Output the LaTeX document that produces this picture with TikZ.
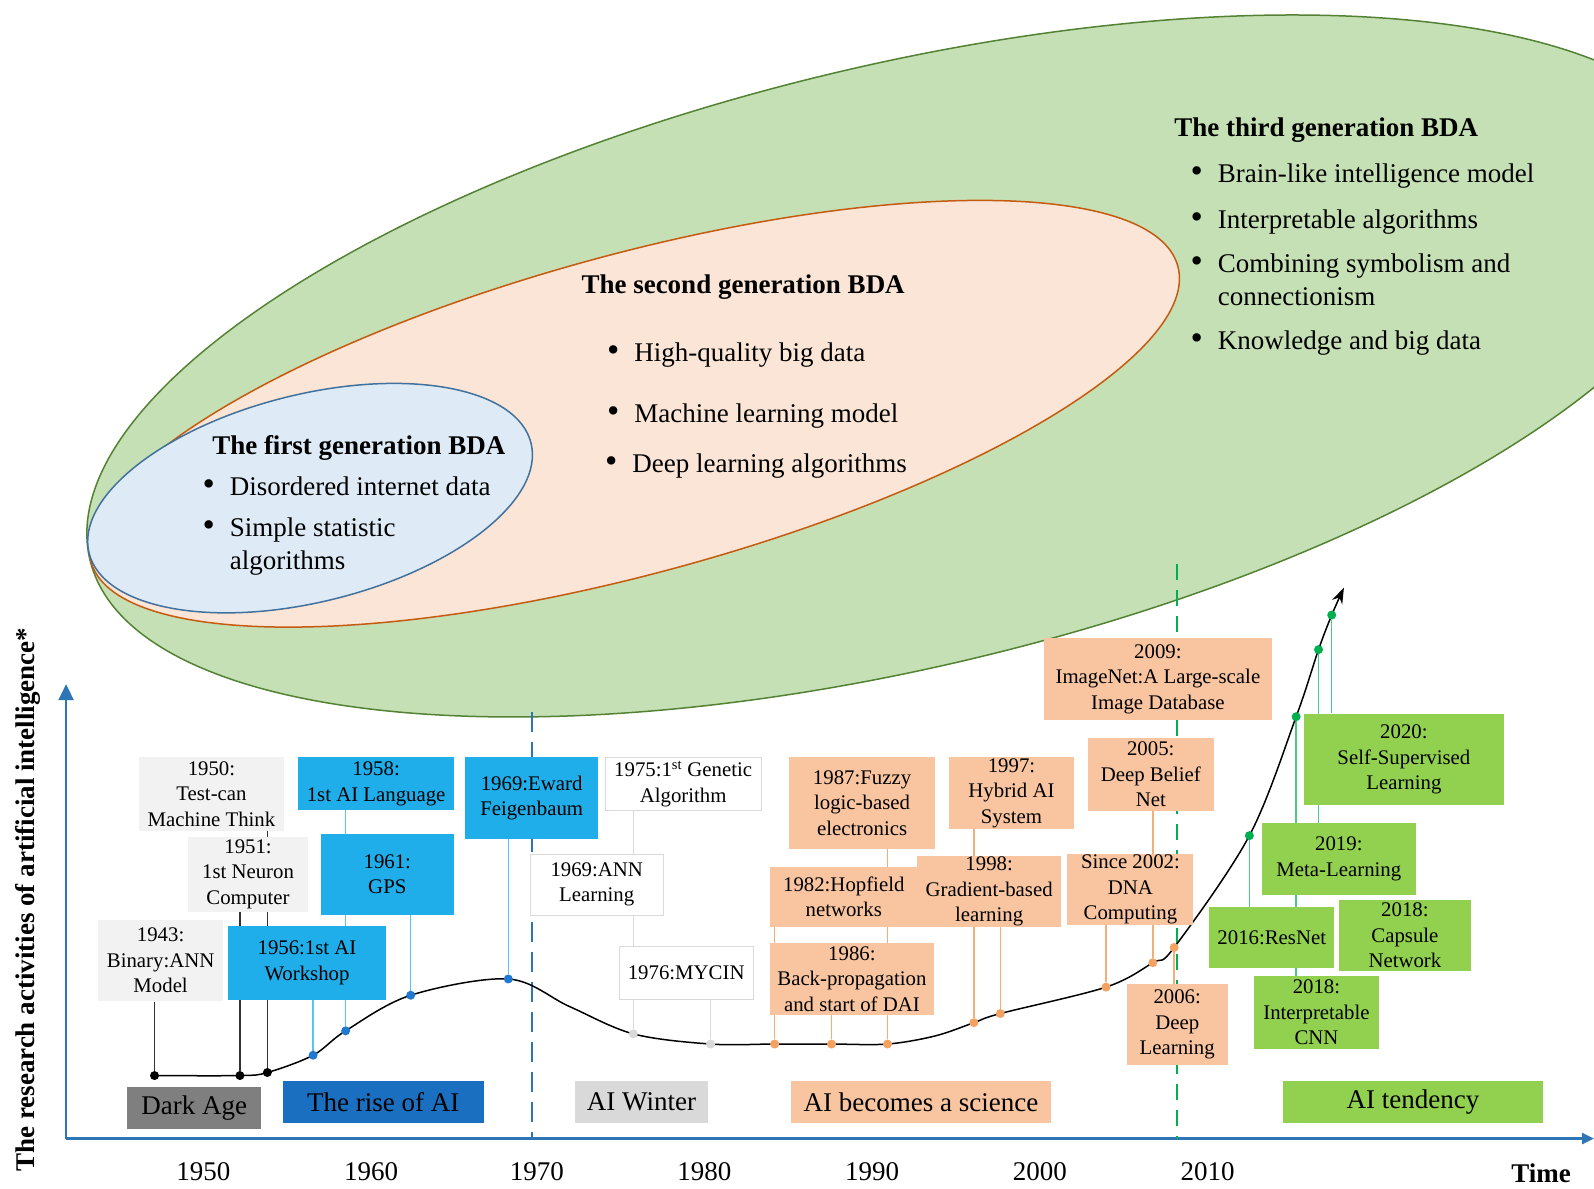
\documentclass[tikz,border=0pt]{standalone}
\usepackage{fontspec}
\setmainfont{Liberation Serif}
\usetikzlibrary{arrows.meta}
\pgfdeclarelayer{back}
\pgfdeclarelayer{links}
\pgfsetlayers{back,links,main}

\definecolor{genthree}{HTML}{C5E0B4}
\definecolor{genthreeline}{HTML}{548235}
\definecolor{gentwo}{HTML}{FBE5D6}
\definecolor{gentwoline}{HTML}{C55A11}
\definecolor{genone}{HTML}{DEEBF7}
\definecolor{genoneline}{HTML}{41719C}
\definecolor{axisblue}{HTML}{2E75B6}
\definecolor{paleGray}{HTML}{F2F2F2}
\definecolor{skyBlue}{HTML}{1FAEE9}
\definecolor{skyLink}{HTML}{5BC3F0}
\definecolor{dotBlue}{HTML}{1F78D1}
\definecolor{peach}{HTML}{F8C5A0}
\definecolor{peachLink}{HTML}{F4AE78}
\definecolor{dotOrange}{HTML}{F4A261}
\definecolor{leaf}{HTML}{92D050}
\definecolor{leafLink}{HTML}{4CC984}
\definecolor{dotGreen}{HTML}{00B050}
\definecolor{winter}{HTML}{D9D9D9}
\definecolor{riseBlue}{HTML}{1A6FC0}
\definecolor{darkAge}{HTML}{7F7F7F}

\newcommand{\bul}[1]{\begin{tabular}[t]{@{}l@{\hspace{15pt}}l@{}}\scalebox{1.3}{\textbullet} & #1\end{tabular}}

\tikzset{
    wh/.style 2 args={minimum width=1.0166*#1pt, minimum height=1.0166*#2pt},
    link/.style={line width=1.4pt},
    item/.style={anchor=base west, inner sep=0pt, font=\fontsize{27}{33}\selectfont},
    title/.style={inner sep=0pt, font=\fontsize{27}{32}\selectfont\bfseries}
}

\begin{document}
\begin{tikzpicture}[x=1.0166pt, y=-1.0166pt]
    \useasboundingbox (0,0) rectangle (1568,1169.6);

    \begin{pgfonlayer}{back}
        \draw[fill=genthree, draw=genthreeline, line width=1.5pt, rotate around={13.4:(888,360)}] (888,360) ellipse [x radius=822, y radius=296];
        \draw[fill=gentwo, draw=gentwoline, line width=1.5pt, rotate around={15.2:(624,407)}] (624,407) ellipse [x radius=554, y radius=157];
        \draw[fill=genone, draw=genoneline, line width=1.5pt, rotate around={14:(305,490)}] (305,490) ellipse [x radius=224, y radius=102];

        \coordinate (origin) at (65,1120);
        \coordinate (ytop) at (65,673);
        \coordinate (xend) at (1568,1120);
        \draw[axisblue, line width=2.5pt, -{Triangle[length=16pt,width=15pt]}] (origin) -- (ytop);
        \draw[axisblue, line width=2.5pt, -{Triangle[length=12pt,width=11pt]}] (origin) -- (xend);

        \coordinate (cut70) at (523,700);
        \coordinate (cut08) at (1158,555);
        \draw[axisblue, line width=2.2pt, dash pattern=on 20pt off 10pt] (cut70) -- (cut70 |- origin);
        \draw[dotGreen, line width=2pt, dash pattern=on 16pt off 10pt] (cut08) -- (cut08 |- origin);
    \end{pgfonlayer}

    \node[title] (gen1) at (353,441) {The first generation BDA};
    \node[item] (gen1a) at (199,487) {\bul{Disordered internet data}};
    \node[item] (gen1b) at (199,528) {\bul{Simple statistic\\ & algorithms}};

    \node[title] (gen2) at (731,282) {The second generation BDA};
    \node[item] (gen2a) at (597,356) {\bul{High-quality big data}};
    \node[item] (gen2b) at (597,416) {\bul{Machine learning model}};
    \node[item] (gen2c) at (595,465) {\bul{Deep learning algorithms}};

    \node[title, anchor=west] (gen3) at (1155,128) {The third generation BDA};
    \node[item] (gen3a) at (1171,180) {\bul{Brain-like intelligence model}};
    \node[item] (gen3b) at (1171,225) {\bul{Interpretable algorithms}};
    \node[item] (gen3c) at (1171,268) {\bul{Combining symbolism and\\ & connectionism}};
    \node[item] (gen3d) at (1171,344) {\bul{Knowledge and big data}};

    \begin{scope}[every node/.style={circle, inner sep=0pt, minimum size=9pt}]
        \node[fill=black] (p1943) at (152,1058) {};
        \node[fill=black] (p1951) at (236,1058) {};
        \node[fill=black] (p1950) at (263,1055) {};
        \node[fill=dotBlue] (p1956) at (308,1038) {};
        \node[fill=dotBlue] (p1958) at (340,1014) {};
        \node[fill=dotBlue] (p1961) at (404,979) {};
        \node[fill=dotBlue] (p1969) at (500,963) {};
        \node[fill=winter] (p1975) at (623,1017) {};
        \node[fill=winter] (p1976) at (699,1027) {};
        \node[fill=dotOrange] (p1982) at (762,1027) {};
        \node[fill=dotOrange] (p1986) at (818,1027) {};
        \node[fill=dotOrange] (p1987) at (873,1027) {};
        \node[fill=dotOrange] (p1997) at (958,1006) {};
        \node[fill=dotOrange] (p1998) at (984,997) {};
        \node[fill=dotOrange] (p2002) at (1088,971) {};
        \node[fill=dotOrange] (p2005) at (1134,947) {};
        \node[fill=dotOrange] (p2006) at (1155,932) {};
        \node[fill=dotGreen] (p2016) at (1229,822) {};
        \node[fill=dotGreen] (p2018) at (1275,705) {};
        \node[fill=dotGreen] (p2019) at (1297,639) {};
        \node[fill=dotGreen] (p2020) at (1310,605) {};
    \end{scope}

    \begin{scope}[every node/.style={align=center, inner sep=0pt, font=\fontsize{20.8}{25.5}\selectfont}]
        \node[fill=paleGray, wh={143}{72}] (b1950) at (208,781) {1950:\\Test-can\\Machine Think};
        \node[fill=paleGray, wh={118}{74}] (b1951) at (244,860) {1951:\\1st Neuron\\Computer};
        \node[fill=paleGray, wh={123}{80}] (b1943) at (158,945) {1943:\\Binary:ANN\\Model};

        \node[fill=skyBlue, wh={154}{52}] (b1958) at (370,771) {1958:\\1st AI Language};
        \node[fill=skyBlue, wh={131}{80}] (b1961) at (381,860) {1961:\\GPS};
        \node[fill=skyBlue, wh={155}{73}] (b1956) at (302,947) {1956:1st AI\\Workshop};
        \node[fill=skyBlue, wh={131}{80}] (b1969) at (523,785) {1969:Eward\\Feigenbaum};

        \node[fill=white, draw=winter, thick, wh={153}{52}] (b1975) at (672,771) {1975:1\textsuperscript{st} Genetic\\Algorithm};
        \node[fill=white, draw=winter, thick, wh={131}{60}] (b1969a) at (587,870) {1969:ANN\\Learning};
        \node[fill=white, draw=winter, thick, wh={132}{53}] (b1976) at (675,957) {1976:MYCIN};

        \node[fill=peach, wh={143}{90}] (b1987) at (848,790) {1987:Fuzzy\\logic-based\\electronics};
        \node[fill=peach, wh={145}{59}] (b1982) at (830,882) {1982:Hopfield\\networks};
        \node[fill=peach, wh={142}{70}] (b1998) at (973,877) {1998:\\Gradient-based\\learning};
        \node[fill=peach, wh={162}{70}] (b1986) at (838,963) {1986:\\Back-propagation\\and start of DAI};
        \node[fill=peach, wh={123}{70}] (b1997) at (995,780) {1997:\\Hybrid AI\\System};
        \node[fill=peach, wh={225}{80}] (b2009) at (1139,668) {2009:\\ImageNet:A Large-scale\\Image Database};
        \node[fill=peach, wh={124}{72}] (b2005) at (1132,762) {2005:\\Deep Belief\\Net};
        \node[fill=peach, wh={124}{70}] (b2002) at (1112,875) {Since 2002:\\DNA\\Computing};
        \node[fill=peach, wh={99}{80}] (b2006) at (1158,1008) {2006:\\Deep\\Learning};

        \node[fill=leaf, wh={197}{90}] (b2020) at (1381,747) {2020:\\Self-Supervised\\Learning};
        \node[fill=leaf, wh={152}{70}] (b2019) at (1317,845) {2019:\\Meta-Learning};
        \node[fill=leaf, wh={123}{60}] (b2016) at (1251,922) {2016:ResNet};
        \node[fill=leaf, wh={130}{70}] (b2018c) at (1382,920) {2018:\\Capsule\\Network};
        \node[fill=leaf, wh={123}{71}] (b2018i) at (1295,996) {2018:\\Interpretable\\CNN};
    \end{scope}

    \begin{scope}[every node/.style={inner sep=0pt, font=\fontsize{27}{31}\selectfont}]
        \node[fill=darkAge, wh={132}{41}] (dark) at (191,1090) {Dark Age};
        \node[fill=riseBlue, wh={198}{42}] (rise) at (377,1084) {The rise of AI};
        \node[fill=winter, wh={131}{42}] (cold) at (631,1084) {AI Winter};
        \node[fill=peach, wh={256}{42}] (science) at (906,1084) {AI becomes a science};
        \node[fill=leaf, wh={255}{42}] (trend) at (1390,1084) {AI tendency};

        \node (y1950) at (200,1153) {1950};
        \node (y1960) at (365,1153) {1960};
        \node (y1970) at (528,1153) {1970};
        \node (y1980) at (693,1153) {1980};
        \node (y1990) at (858,1153) {1990};
        \node (y2000) at (1023,1153) {2000};
        \node (y2010) at (1188,1153) {2010};
        \node[font=\fontsize{27}{31}\selectfont\bfseries] (time) at (1516,1154) {Time};
        \node[rotate=90, font=\fontsize{27}{31}\selectfont\bfseries] (ylabel) at (28,885) {The research activities of artificial intelligence*};
    \end{scope}

    \begin{pgfonlayer}{links}
        \draw[link, black!80] (b1943.south -| p1943) -- (p1943);
        \draw[link, black!80] (b1951.south -| p1951) -- (p1951);
        \draw[link, black!80] (b1950.south -| p1950) -- (p1950);
        \draw[link, skyLink] (b1956.south -| p1956) -- (p1956);
        \draw[link, skyLink] (b1958.south -| p1958) -- (p1958);
        \draw[link, skyLink] (b1961.south -| p1961) -- (p1961);
        \draw[link, skyLink] (b1969.south -| p1969) -- (p1969);
        \draw[link, winter] (b1975.south -| p1975) -- (p1975);
        \draw[link, winter] (b1976.south -| p1976) -- (p1976);
        \draw[link, peachLink] (b1982.south -| p1982) -- (p1982);
        \draw[link, peachLink] (b1986.south -| p1986) -- (p1986);
        \draw[link, peachLink] (b1987.south -| p1987) -- (p1987);
        \draw[link, peachLink] (b1997.south -| p1997) -- (p1997);
        \draw[link, peachLink] (b1998.south -| p1998) -- (p1998);
        \draw[link, peachLink] (b2002.south -| p2002) -- (p2002);
        \draw[link, peachLink] (b2005.south -| p2005) -- (p2005);
        \draw[link, peachLink] (b2006.north -| p2006) -- (p2006);
        \draw[link, leafLink] (b2016.north -| p2016) -- (p2016);
        \draw[link, leafLink] (b2018i.north -| p2018) -- (p2018);
        \draw[link, leafLink] (b2019.north -| p2019) -- (p2019);
        \draw[link, leafLink] (b2020.north -| p2020) -- (p2020);

        \coordinate (tip) at (1322,578);
        \draw[line width=1.5pt, -{Stealth[length=16pt,width=11pt]}] plot[smooth, tension=0.55] coordinates {(p1943) (p1951) (p1950) (p1956) (p1958) (p1961) (p1969) (560,990) (p1975) (p1976) (p1982) (p1986) (p1987) (920,1019) (p1997) (p1998) (p2002) (p2005) (p2006) (p2016) (p2018) (p2019) (p2020) (tip)};
    \end{pgfonlayer}
\end{tikzpicture}
\end{document}
